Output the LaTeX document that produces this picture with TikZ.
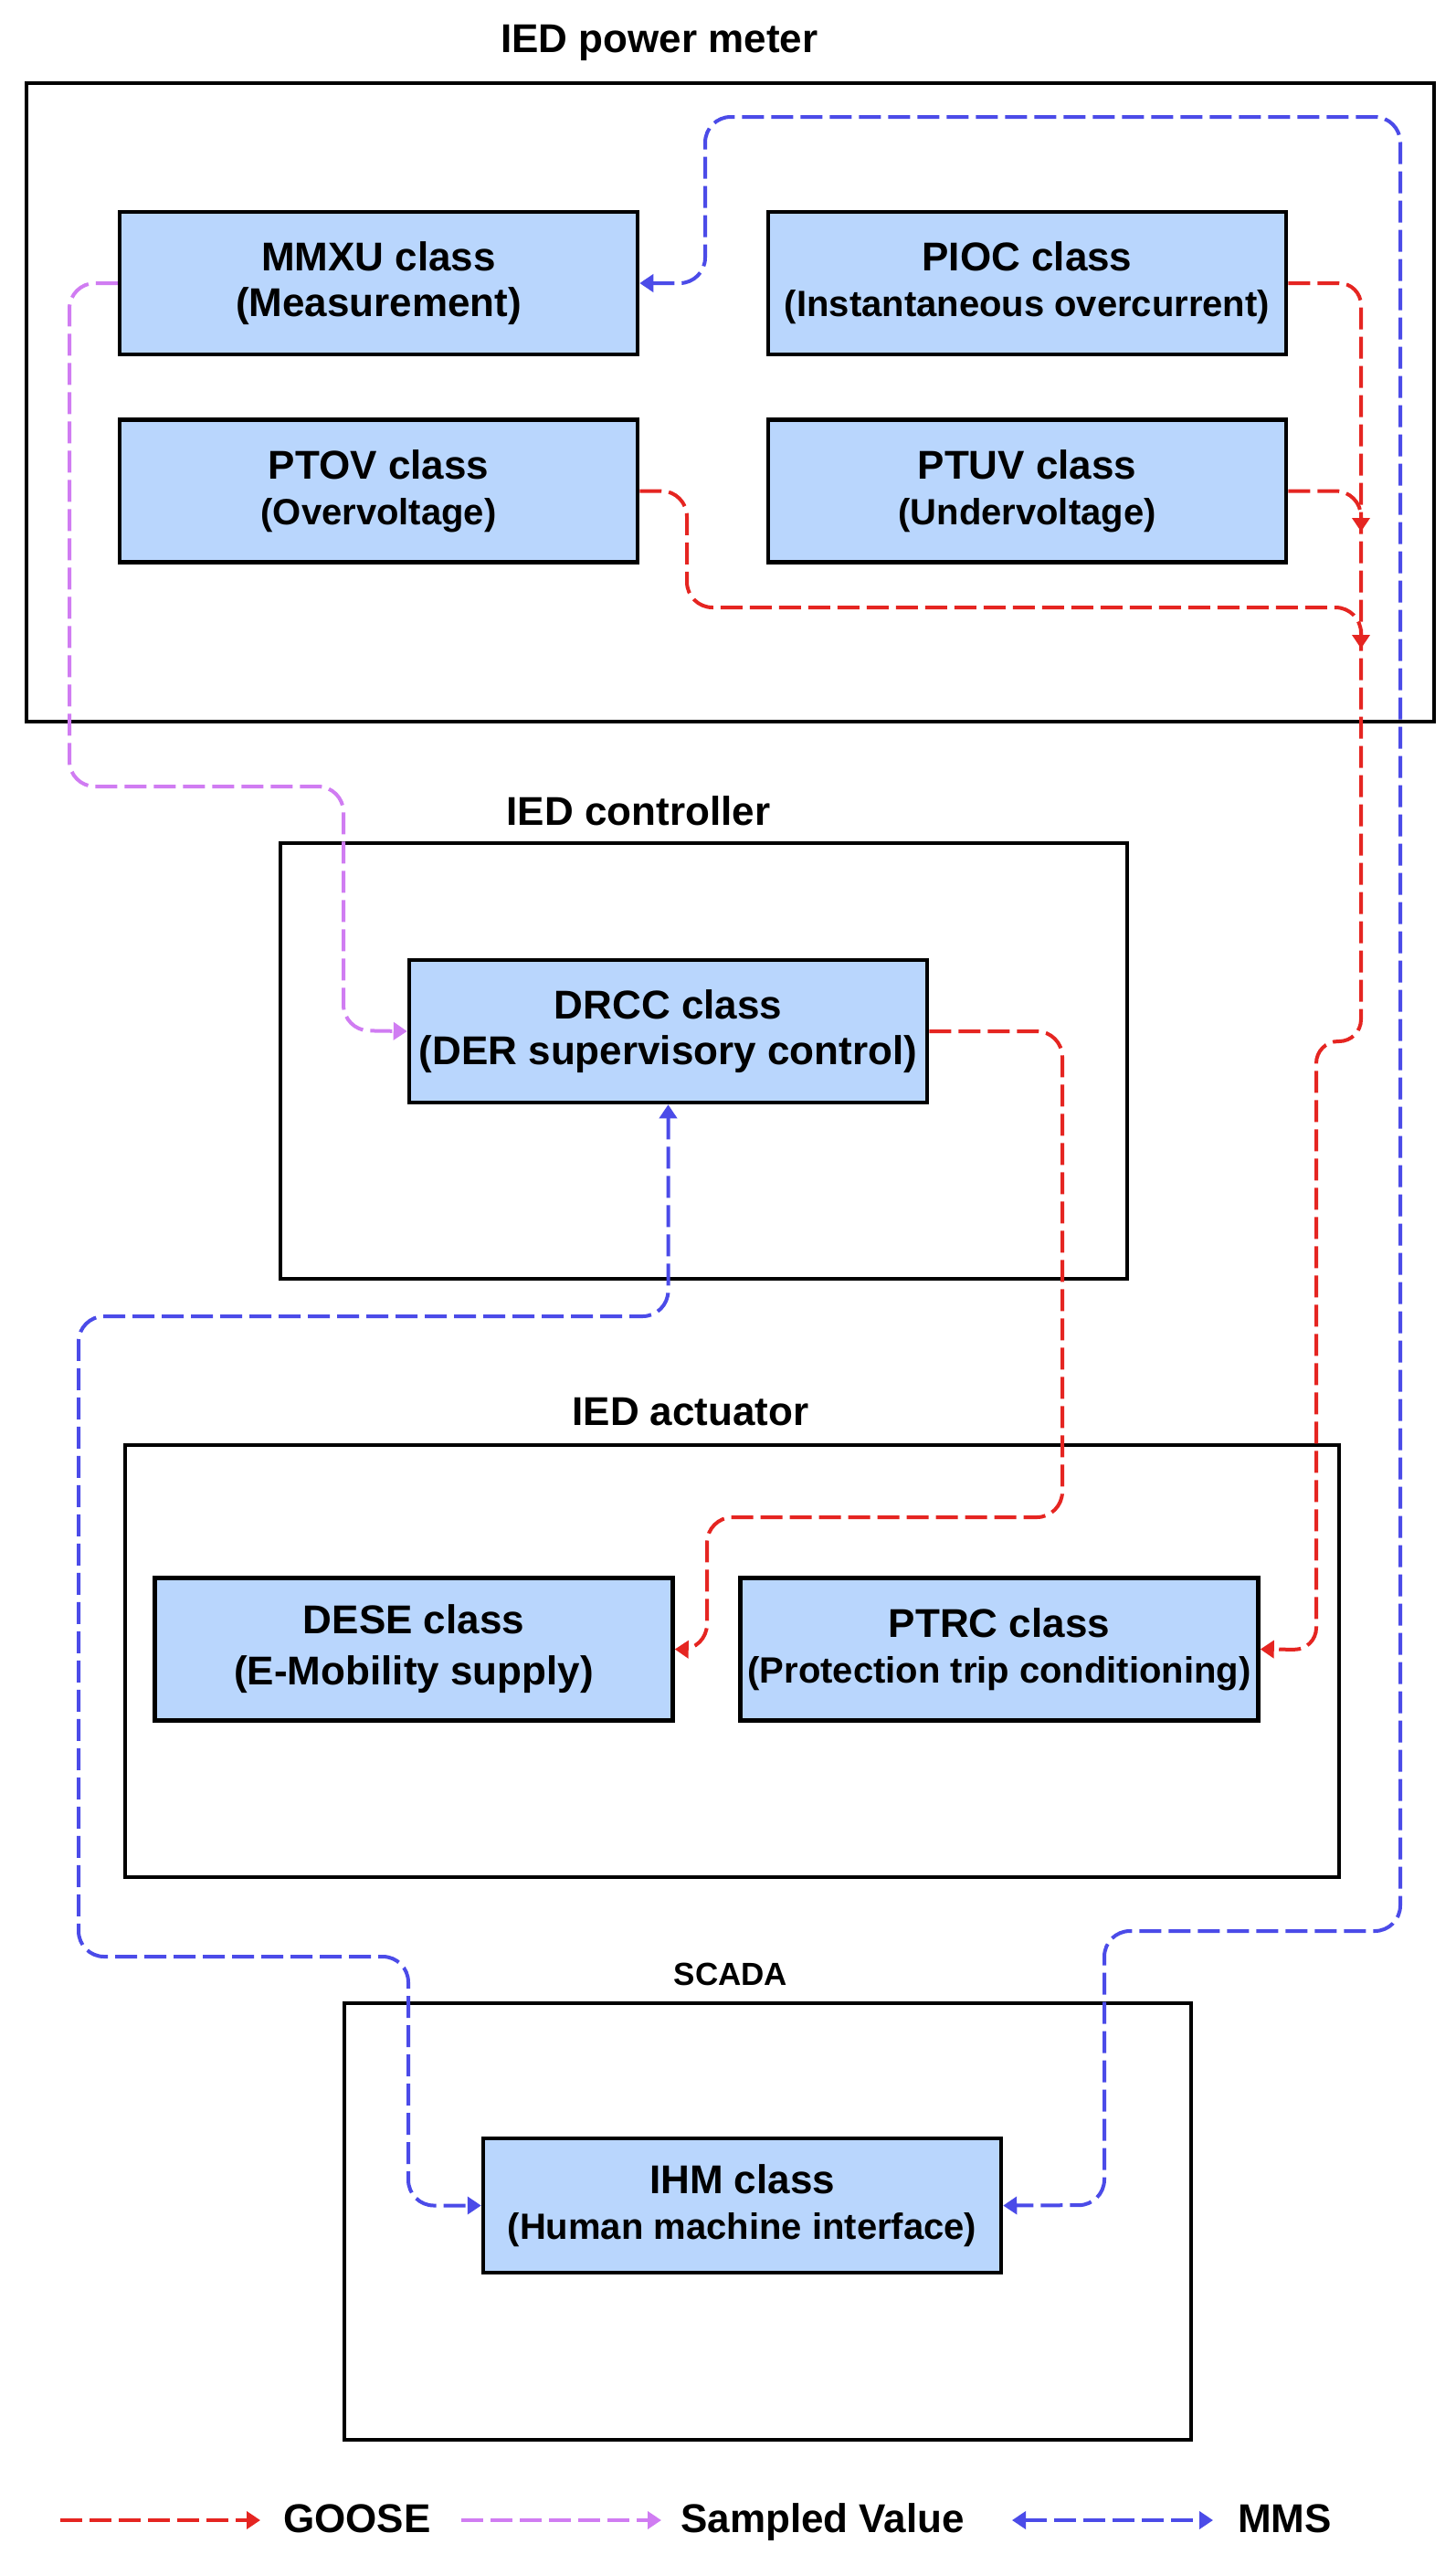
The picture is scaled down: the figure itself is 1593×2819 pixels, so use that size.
\documentclass[tikz,border=0pt]{standalone}
\usepackage{fontspec}
\setmainfont{Liberation Sans}
\usetikzlibrary{arrows.meta}
\definecolor{goosec}{HTML}{E52521}
\definecolor{svc}{HTML}{D07CF2}
\definecolor{mmsc}{HTML}{4B4BE8}
\definecolor{clsfill}{HTML}{B9D6FD}
\tikzset{
  clsbox/.style={draw=black, line width=4.5pt, fill=clsfill, minimum width=567pt, minimum height=156pt,
    align=center, inner sep=0pt, font=\fontsize{44}{50}\selectfont\bfseries},
  grpbox/.style={draw=black, line width=3.5pt, inner sep=0pt},
  grptitle/.style={anchor=base, inner sep=0pt, font=\fontsize{44}{50}\selectfont\bfseries},
  lgtext/.style={anchor=base west, inner sep=0pt, font=\fontsize{44}{50}\selectfont\bfseries},
  link/.style={line width=4pt, dash pattern=on 24pt off 8pt, rounded corners=28pt},
  tip/.tip={Triangle[length=15pt,width=19pt]},
  gooseln/.style={link, draw=goosec, -tip},
  svln/.style={link, draw=svc, -tip},
  mmsln/.style={link, draw=mmsc, tip-tip},
}
\newcommand{\subl}[1]{{\fontsize{40}{50}\selectfont #1}}
\newcommand{\subL}[1]{{\fontsize{44}{50}\selectfont #1}}
\begin{document}
\begin{tikzpicture}[x=1pt,y=-1pt]
\useasboundingbox (0,0) rectangle (1593,2819);
% groups
\node[grpbox, minimum width=1541pt, minimum height=699pt] (pm) at (799.5,440.5) {};
\node[grpbox, minimum width=927pt, minimum height=477pt] (ctl) at (770.5,1161.5) {};
\node[grpbox, minimum width=1329pt, minimum height=473pt] (act) at (801.5,1818.5) {};
\node[grpbox, minimum width=927pt, minimum height=478pt] (scada) at (840.5,2432) {};
\node[grptitle] (pmt) at (722,57) {IED power meter};
\node[grptitle] (ctlt) at (699,903) {IED controller};
\node[grptitle] (actt) at (756,1560) {IED actuator};
\node[grptitle, font=\fontsize{35}{40}\selectfont\bfseries] (scadat) at (800,2173) {SCADA};
% classes
\node[clsbox] (mmxu) at (414.5,310) {MMXU class\\\subL{(Measurement)}};
\node[clsbox] (pioc) at (1124.5,310) {PIOC class\\\subl{(Instantaneous overcurrent)}};
\node[clsbox] (ptov) at (414.5,537.5) {PTOV class\\\subl{(Overvoltage)}};
\node[clsbox] (ptuv) at (1124.5,537.5) {PTUV class\\\subl{(Undervoltage)}};
\node[clsbox] (drcc) at (731.5,1129) {DRCC class\\\subL{(DER supervisory control)}};
\node[clsbox] (dese) at (453,1805.5) {DESE class\\[6pt]\subL{(E-Mobility supply)}};
\node[clsbox] (ptrc) at (1094,1805.5) {PTRC class\\\subl{(Protection trip conditioning)}};
\node[clsbox, minimum height=147pt] (ihm) at (812.5,2414.5) {IHM class\\\subl{(Human machine interface)}};
% MMS
\draw[mmsln] (mmxu.east) -| (772,128) -| (1533,2114) -| (1209,2414) -- (ihm.east);
\draw[mmsln] (drcc.south) |- (86,1441) |- (447,2142) |- (ihm.west);
% Sampled value
\draw[svln] (mmxu.west) -| (76,861) -| (376,1128) -- (drcc.west);
% GOOSE
\draw[gooseln, rounded corners=24pt] (pioc.east) -| (1490,1140) -| (1441,1806) -- (ptrc.east);
\draw[gooseln] (ptuv.east) -| (1490,582);
\draw[gooseln] (ptov.east) -| (752,665) -| (1490,710);
\draw[gooseln] (drcc.east) -| (1163,1661) -| (774,1806) -- (dese.east);
% legend
\coordinate (g1) at (66,2759); \coordinate (g2) at (285,2759);
\coordinate (s1) at (505,2759); \coordinate (s2) at (724,2759);
\coordinate (m1) at (1108,2759); \coordinate (m2) at (1328,2759);
\draw[gooseln] (g1) -- (g2);
\draw[svln] (s1) -- (s2);
\draw[mmsln] (m1) -- (m2);
\node[lgtext] (lg1) at (310,2772) {GOOSE};
\node[lgtext] (lg2) at (745,2772) {Sampled Value};
\node[lgtext] (lg3) at (1355,2772) {MMS};
\end{tikzpicture}
\end{document}
